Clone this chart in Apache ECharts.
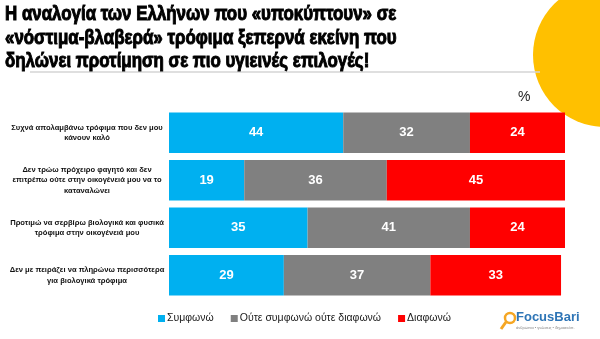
<!DOCTYPE html>
<html><head><meta charset="utf-8">
<script src="https://cdn.jsdelivr.net/npm/echarts@6/dist/echarts.min.js"></script>
<style>html,body{margin:0;padding:0;background:#fff}#c{width:600px;height:339px}</style>
</head><body><div id="c"></div>
<script>
const categories = [
  'Συχνά απολαμβάνω τρόφιμα που δεν μου\nκάνουν καλό',
  'Δεν τρώω πρόχειρο φαγητό και δεν\nεπιτρέπω ούτε στην οικογένειά μου να το\nκαταναλώνει',
  'Προτιμώ να σερβίρω βιολογικά και φυσικά\nτρόφιμα στην οικογένειά μου',
  'Δεν με πειράζει να πληρώνω περισσότερα\nγια βιολογικά τρόφιμα'
];
const seriesNames = ['Συμφωνώ', 'Ούτε συμφωνώ ούτε διαφωνώ', 'Διαφωνώ'];
const agree = [44, 19, 35, 29];
const neutral = [32, 36, 41, 37];
const disagree = [24, 45, 24, 33];
const colors = ['#00B0F0', '#808080', '#FF0000'];
const titleLines = [
  'Η αναλογία των Ελλήνων που «υποκύπτουν» σε',
  '«νόστιμα-βλαβερά» τρόφιμα ξεπερνά εκείνη που',
  'δηλώνει προτίμηση σε πιο υγιεινές επιλογές!'
];

const chart = echarts.init(document.getElementById('c'));
const mk = (name, data, color) => ({
  name, type: 'bar', stack: 'total', data, barCategoryGap: '15%',
  itemStyle: { color },
  label: { show: true, position: 'inside', color: '#fff', fontWeight: 'bold', fontSize: 13, fontFamily: 'Liberation Sans' }
});
chart.setOption({
  animation: false,
  textStyle: { fontFamily: 'Liberation Sans' },
  grid: { left: 169, right: 35, top: 109, bottom: 40, containLabel: false, outerBoundsMode: 'none' },
  xAxis: { type: 'value', min: 0, max: 100, show: false },
  yAxis: {
    type: 'category', data: categories, inverse: true,
    axisLine: { show: false }, axisTick: { show: false },
    axisLabel: { align: 'center', margin: 82, fontSize: 7.6, fontWeight: 'bold', color: '#111', lineHeight: 10.5 }
  },
  legend: {
    data: seriesNames, left: 153, top: 308, icon: 'rect', itemWidth: 7, itemHeight: 7, itemGap: 17,
    textStyle: { fontSize: 10.5, color: '#1a1a1a', padding: [0, 0, 0, -3] }
  },
  graphic: [
    { type: 'circle', shape: { cx: 605, cy: 55, r: 72 }, style: { fill: '#FFC000' }, z: -10 },
    { type: 'line', shape: { x1: 30, y1: 72, x2: 540, y2: 72 }, style: { stroke: '#d4d4d4', lineWidth: 1.5 }, z: -5 },
    { type: 'text', x: 5, y: 3, scaleX: 0.845, style: { text: titleLines.join('\n'), font: 'bold 20px "Liberation Sans"', fill: '#000', stroke: '#000', lineWidth: 1, lineHeight: 23.5 } },
    { type: 'text', left: 518, top: 90, style: { text: '%', font: '14px "Liberation Sans"', fill: '#222' } },
    { type: 'circle', shape: { cx: 510, cy: 318, r: 5 }, style: { fill: 'none', stroke: '#F5A623', lineWidth: 2.5 } },
    { type: 'line', shape: { x1: 506, y1: 322, x2: 501, y2: 329 }, style: { stroke: '#F5A623', lineWidth: 3 } },
    { type: 'text', left: 516, top: 311, style: { text: 'FocusBari', font: 'bold 13px "Liberation Sans"', fill: '#2E75B6' } },
    { type: 'text', left: 516, top: 326, style: { text: 'άνθρωποι • γνώσεις • δημοσκόπ.', font: '4px "Liberation Sans"', fill: '#888' } }
  ],
  series: [
    mk(seriesNames[0], agree, colors[0]),
    mk(seriesNames[1], neutral, colors[1]),
    mk(seriesNames[2], disagree, colors[2])
  ]
});
</script></body></html>
